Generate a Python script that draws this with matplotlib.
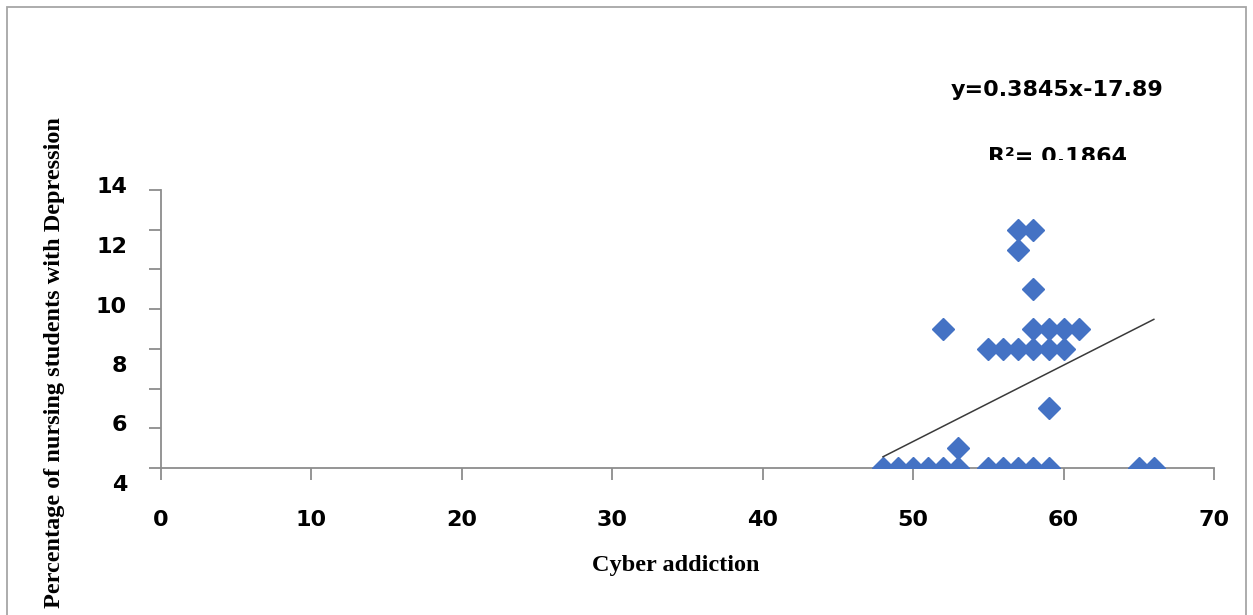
import matplotlib
matplotlib.use('Agg')
import matplotlib.pyplot as plt
from matplotlib.patches import Rectangle
import numpy as np

# cyber addiction score vs depression value
cyber = [48, 49, 50, 51, 52, 53, 55, 56, 57, 58, 59, 65, 66,
         53, 59, 52,
         55, 56, 57, 58, 59, 60,
         58, 59, 60, 61,
         58, 57, 57, 58]
depression = [0, 0, 0, 0, 0, 0, 0, 0, 0, 0, 0, 0, 0,
              1, 3, 7,
              6, 6, 6, 6, 6, 6,
              7, 7, 7, 7,
              9, 11, 12, 12]

slope = 0.3845
intercept = -17.89
eq_text = 'y=0.3845x-17.89'
r2_text = 'R²= 0.1864'

x_ticks = [0, 10, 20, 30, 40, 50, 60, 70]
# the y labels in the source sit off their ticks
y_labels = ['14', '12', '10', '8', '6', '4']
y_label_pos = [14.15, 11.13, 8.12, 5.14, 2.17, -0.86]

AXIS_GREY = '#8c8c8c'
BLUE = '#4472C4'

fig = plt.figure(figsize=(12.53, 6.15), dpi=100)
ax = fig.add_axes([0.1283, 0.239, 0.8406, 0.452])

ax.plot(cyber, depression, linestyle='none', marker='D', markersize=11.3,
        color=BLUE, markeredgecolor=BLUE, zorder=3)

xs = np.array([min(cyber), max(cyber)])
ax.plot(xs, slope * xs + intercept, color='#3a3a3a', linewidth=1.1, zorder=4)

ax.set_xlim(0, 70)
ax.set_ylim(0, 14)
ax.set_xticks(x_ticks)
ax.set_xticklabels([str(t) for t in x_ticks], fontsize=16, fontweight='bold',
                   family='DejaVu Sans')
ax.set_yticks(np.arange(0, 15, 2))
ax.set_yticklabels([])

for s in ['top', 'right']:
    ax.spines[s].set_visible(False)
for s in ['left', 'bottom']:
    ax.spines[s].set_color(AXIS_GREY)
    ax.spines[s].set_linewidth(1.3)
ax.tick_params(axis='both', direction='out', length=8.5, width=1.3, color=AXIS_GREY)
ax.tick_params(axis='x', pad=22)

for lab, pos in zip(y_labels, y_label_pos):
    ax.text(-0.032, pos, lab, transform=ax.get_yaxis_transform(), ha='right',
            va='center', fontsize=16, fontweight='bold', family='DejaVu Sans',
            clip_on=False)

fig.text(676 / 1253, 1 - 565 / 615, 'Cyber addiction', ha='center', va='center',
         fontsize=17.5, fontweight='bold', family='Liberation Serif')
fig.text(55 / 1253, 1 - 363 / 615, 'Percentage of nursing students with Depression',
         ha='center', va='center', rotation=90, fontsize=17.5, fontweight='bold',
         family='Liberation Serif')

fig.text(1057 / 1253, 1 - 90 / 615, eq_text, ha='center', va='center',
         fontsize=16, fontweight='bold', family='DejaVu Sans')
r2 = fig.text(1058 / 1253, 1 - 157 / 615, r2_text, ha='center', va='center',
              fontsize=16, fontweight='bold', family='DejaVu Sans')
clip = Rectangle((0, 1 - 160 / 615), 1, 160 / 615, transform=fig.transFigure)
r2.set_clip_path(clip)

# chart frame; its bottom edge falls outside the picture
border = Rectangle((7 / 1253, -0.05), 1239 / 1253, 1.05 - 7 / 615,
                   transform=fig.transFigure, fill=False, edgecolor='#a6a6a6',
                   linewidth=1.3)
fig.patches.append(border)

fig.savefig('out.png', dpi=100)
